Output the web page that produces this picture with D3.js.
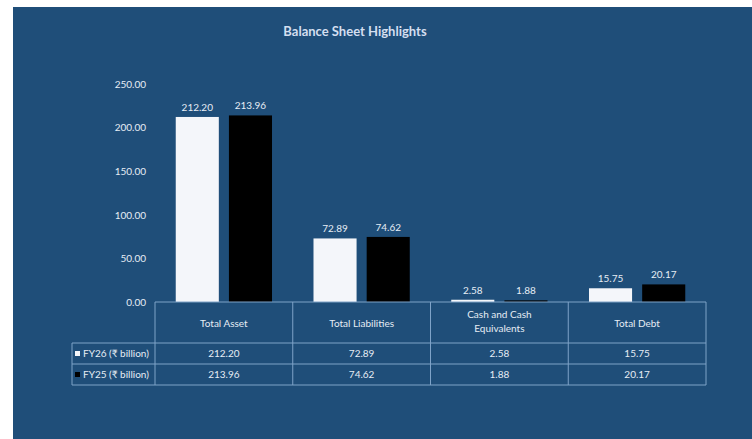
<!DOCTYPE html>
<html lang="en">
<head>
  <meta charset="UTF-8">
  <title>Balance Sheet Highlights</title>
  <style>
    html,
    body {
      margin: 0;
      padding: 0;
      background: #fff;
    }
    svg text {
      font-family: Lato, "Liberation Sans Narrow", sans-serif;
    }
  </style>
</head>
<body>
<div id="chart"></div>

<script src="https://d3js.org/d3.v7.min.js"></script>
<script>
  const categories = ['Total Asset', 'Total Liabilities', 'Cash and Cash Equivalents', 'Total Debt'];
  const seriesNames = ['FY26 (₹ billion)', 'FY25 (₹ billion)'];
  const fy26 = [212.20, 72.89, 2.58, 15.75];
  const fy25 = [213.96, 74.62, 1.88, 20.17];
  const yTicks = [0, 50, 100, 150, 200, 250];

  const width = 752;
  const height = 439;
  const bg = '#1f4e79';
  const textColor = '#e6edf5';
  const lineColor = '#7fa3c8';
  const seriesColor = ['#f4f6fa', '#000000'];

  const svg = d3.select('#chart').append('svg')
    .attr('width', width)
    .attr('height', height);

  svg.append('rect')
    .attr('x', 13).attr('y', 7)
    .attr('width', width - 13).attr('height', height - 7)
    .attr('fill', bg);

  svg.append('text')
    .attr('x', 355).attr('y', 36)
    .attr('text-anchor', 'middle')
    .attr('fill', '#d4dff0')
    .attr('font-size', 13)
    .attr('font-weight', 'bold')
    .text('Balance Sheet Highlights');

  const x = d3.scaleBand().domain(categories).range([155, 706]);
  const xs = d3.scaleBand().domain(seriesNames).range([0, x.bandwidth()])
    .paddingInner(0.19).paddingOuter(0.39);
  const y = d3.scaleLinear().domain([0, 250]).range([302, 84]);

  // y axis labels
  const yAxis = svg.append('g')
    .attr('transform', 'translate(146,0)')
    .call(d3.axisLeft(y).tickValues(yTicks).tickFormat(d3.format('.2f')).tickSize(0).tickPadding(0));
  yAxis.select('.domain').remove();
  yAxis.selectAll('text')
    .attr('fill', textColor)
    .attr('font-size', 10)
    .style('font-family', 'Lato, sans-serif');

  const series = [fy26, fy25];
  series.forEach((vals, si) => {
    const g = svg.append('g');
    g.selectAll('rect')
      .data(vals)
      .join('rect')
      .attr('x', (d, i) => x(categories[i]) + xs(seriesNames[si]))
      .attr('y', d => y(d))
      .attr('width', xs.bandwidth())
      .attr('height', d => y(0) - y(d))
      .attr('fill', seriesColor[si]);
    g.selectAll('text')
      .data(vals)
      .join('text')
      .attr('x', (d, i) => x(categories[i]) + xs(seriesNames[si]) + xs.bandwidth() / 2)
      .attr('y', d => y(d) - 6)
      .attr('text-anchor', 'middle')
      .attr('fill', textColor)
      .attr('font-size', 10)
      .text(d => d.toFixed(2));
  });

  // data table
  const table = svg.append('g')
    .attr('stroke', lineColor)
    .attr('stroke-width', 1)
    .attr('fill', 'none');
  const rowTop = 302, rowHead = 343, row1 = 364, row2 = 385;
  const legendLeft = 72;
  table.append('line').attr('x1', 155).attr('x2', 706).attr('y1', rowTop).attr('y2', rowTop);
  [rowHead, row1, row2].forEach(yy => table.append('line').attr('x1', legendLeft).attr('x2', 706).attr('y1', yy).attr('y2', yy));
  categories.forEach(c => {
    table.append('line').attr('x1', x(c)).attr('x2', x(c)).attr('y1', rowTop).attr('y2', row2);
  });
  table.append('line').attr('x1', 706).attr('x2', 706).attr('y1', rowTop).attr('y2', row2);
  table.append('line').attr('x1', legendLeft).attr('x2', legendLeft).attr('y1', rowHead).attr('y2', row2);

  const headers = svg.append('g');
  categories.forEach(c => {
    const lines = c === 'Cash and Cash Equivalents' ? ['Cash and Cash', 'Equivalents'] : [c];
    const cx = x(c) + x.bandwidth() / 2;
    lines.forEach((t, li) => {
      headers.append('text')
        .attr('x', cx)
        .attr('y', lines.length === 1 ? 327 : 318 + li * 14)
        .attr('text-anchor', 'middle')
        .attr('fill', textColor)
        .attr('font-size', 10)
        .text(t);
    });
  });

  const rowsY = [row1 - 7, row2 - 7];
  series.forEach((vals, si) => {
    svg.append('rect')
      .attr('x', 75).attr('y', rowsY[si] - 6)
      .attr('width', 5).attr('height', 5)
      .attr('fill', seriesColor[si]);
    svg.append('text')
      .attr('x', 83).attr('y', rowsY[si])
      .attr('fill', textColor)
      .attr('font-size', 10)
      .text(seriesNames[si]);
    vals.forEach((v, i) => {
      svg.append('text')
        .attr('x', x(categories[i]) + x.bandwidth() / 2)
        .attr('y', rowsY[si])
        .attr('text-anchor', 'middle')
        .attr('fill', textColor)
        .attr('font-size', 10)
        .text(v.toFixed(2));
    });
  });
</script>
</body>
</html>
